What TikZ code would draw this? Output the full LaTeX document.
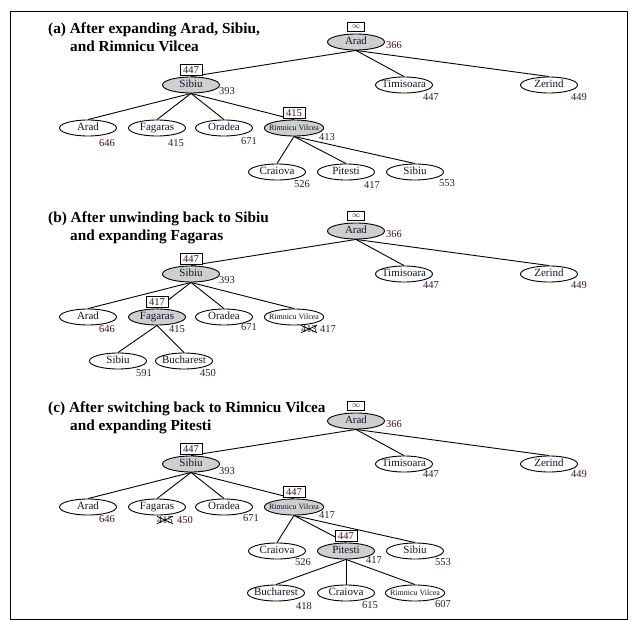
\documentclass[tikz,border=0pt]{standalone}
\usepackage{fontspec}
\setmainfont{Liberation Serif}
\usepackage{tikz}
\usetikzlibrary{positioning,shapes.geometric}
\definecolor{numcol}{RGB}{60,20,50}
\definecolor{txtcol}{RGB}{20,20,50}
\tikzset{
  city/.style   ={draw,ellipse,line width=0.9pt,fill=white,inner xsep=-4pt,inner ysep=0pt,
                  text height=7pt,text depth=2pt,minimum width=57pt,minimum height=16pt,
                  text=txtcol,font=\fontsize{11}{12}\selectfont},
  open/.style   ={city,fill=gray!38},
  rv/.style     ={font=\fontsize{8}{9}\selectfont,text height=5.5pt,text depth=1.5pt},
  fval/.style   ={inner sep=0pt,text=numcol,font=\fontsize{10.5}{12}\selectfont},
  limit/.style  ={draw,line width=0.8pt,fill=white,inner sep=0pt,minimum width=22pt,minimum height=11pt,
                  text=numcol,font=\fontsize{10.5}{12}\selectfont},
  nolimit/.style={limit,minimum width=17pt,minimum height=9pt,font=\fontsize{8.5}{9}\selectfont},
  link/.style   ={line width=0.9pt},
  strike/.style ={line width=0.8pt},
  title/.style  ={anchor=base west,inner sep=0pt,font=\bfseries\fontsize{15.3}{18}\selectfont}
}
\begin{document}
\begin{tikzpicture}[x=1pt,y=-1pt]
  \useasboundingbox (0,0) rectangle (640,621);
  \draw[line width=0.8pt] (10,11) rectangle (627,619);

  % (a) after expanding Arad, Sibiu and Rimnicu Vilcea
  \node[title] (a-t1) at (48,33) {(a) After expanding Arad, Sibiu,};
  \node[title] (a-t2) at (70,51) {and Rimnicu Vilcea};
  \node[open] (a-root) at (356,42) {Arad};
  \node[open] (a-sib)  at (191,85) {Sibiu};
  \node[city] (a-tim)  at (404,85) {Timisoara};
  \node[city] (a-zer)  at (549,85) {Zerind};
  \node[city] (a-ara)  at (88,128) {Arad};
  \node[city] (a-fag)  at (157,128) {Fagaras};
  \node[city] (a-ora)  at (224,128) {Oradea};
  \node[open,rv] (a-rv) at (294,128) {Rimnicu Vilcea};
  \node[city] (a-cra)  at (277,172) {Craiova};
  \node[city] (a-pit)  at (346,172) {Pitesti};
  \node[city] (a-sib2) at (415,172) {Sibiu};
  \draw[link] (a-root.south) -- (a-sib.north);
  \draw[link] (a-root.south) -- (a-tim.north);
  \draw[link] (a-root.south) -- (a-zer.north);
  \draw[link] (a-sib.south) -- (a-ara.north);
  \draw[link] (a-sib.south) -- (a-fag.north);
  \draw[link] (a-sib.south) -- (a-ora.north);
  \draw[link] (a-sib.south) -- (a-rv.north);
  \draw[link] (a-rv.south) -- (a-cra.north);
  \draw[link] (a-rv.south) -- (a-pit.north);
  \draw[link] (a-rv.south) -- (a-sib2.north);
  \node[nolimit,above=2pt of a-root] (a-root-l) {$\infty$};
  \node[limit,above=0.5pt of a-sib] (a-sib-l) {447};
  \node[limit,above=0.5pt of a-rv] (a-rv-l) {415};
  \node[fval] (a-root-f) at (394,45) {366};
  \node[fval] (a-sib-f)  at (227,91) {393};
  \node[fval] (a-tim-f)  at (431,97) {447};
  \node[fval] (a-zer-f)  at (579,97) {449};
  \node[fval] (a-ara-f)  at (107,143) {646};
  \node[fval] (a-fag-f)  at (176,143) {415};
  \node[fval] (a-ora-f)  at (249,141) {671};
  \node[fval] (a-rv-f)   at (327,137) {413};
  \node[fval] (a-cra-f)  at (302,184) {526};
  \node[fval] (a-pit-f)  at (372,185) {417};
  \node[fval] (a-sib2-f) at (447,183) {553};

  % (b) after unwinding back to Sibiu
  \begin{scope}[shift={(0,189)}]
  \node[title] (b-t1) at (48,33) {(b) After unwinding back to Sibiu};
  \node[title] (b-t2) at (70,51) {and expanding Fagaras};
  \node[open] (b-root) at (356,42) {Arad};
  \node[open] (b-sib)  at (191,85) {Sibiu};
  \node[city] (b-tim)  at (404,85) {Timisoara};
  \node[city] (b-zer)  at (549,85) {Zerind};
  \node[city] (b-ara)  at (88,128) {Arad};
  \node[open] (b-fag)  at (157,128) {Fagaras};
  \node[city] (b-ora)  at (224,128) {Oradea};
  \node[city,rv] (b-rv) at (294,128) {Rimnicu Vilcea};
  \node[city] (b-sib2) at (118,172) {Sibiu};
  \node[city] (b-buc)  at (184,172) {Bucharest};
  \draw[link] (b-root.south) -- (b-sib.north);
  \draw[link] (b-root.south) -- (b-tim.north);
  \draw[link] (b-root.south) -- (b-zer.north);
  \draw[link] (b-sib.south) -- (b-ara.north);
  \draw[link] (b-sib.south) -- (b-fag.north);
  \draw[link] (b-sib.south) -- (b-ora.north);
  \draw[link] (b-sib.south) -- (b-rv.north);
  \draw[link] (b-fag.south) -- (b-sib2.north);
  \draw[link] (b-fag.south) -- (b-buc.north);
  \node[nolimit,above=2pt of b-root] (b-root-l) {$\infty$};
  \node[limit,above=0.5pt of b-sib] (b-sib-l) {447};
  \node[limit,above=0.5pt of b-fag] (b-fag-l) {417};
  \node[fval] (b-root-f) at (394,45) {366};
  \node[fval] (b-sib-f)  at (227,91) {393};
  \node[fval] (b-tim-f)  at (431,96) {447};
  \node[fval] (b-zer-f)  at (579,96) {449};
  \node[fval] (b-ara-f)  at (107,140) {646};
  \node[fval] (b-fag-f)  at (177,140) {415};
  \node[fval] (b-ora-f)  at (249,138) {671};
  \node[fval] (b-rv-old) at (309,140) {413};
  \node[fval] (b-rv-f)   at (328,140) {417};
  \draw[strike] (b-rv-old.south west) -- (b-rv-old.north east)
                (b-rv-old.north west) -- (b-rv-old.south east);
  \node[fval] (b-sib2-f) at (144,184) {591};
  \node[fval] (b-buc-f)  at (208,184) {450};
  \end{scope}

  % (c) after switching back to Rimnicu Vilcea
  \begin{scope}[shift={(0,379)}]
  \node[title] (c-t1) at (48,33) {(c) After switching back to Rimnicu Vilcea};
  \node[title] (c-t2) at (70,51) {and expanding Pitesti};
  \node[open] (c-root) at (356,42) {Arad};
  \node[open] (c-sib)  at (191,85) {Sibiu};
  \node[city] (c-tim)  at (404,85) {Timisoara};
  \node[city] (c-zer)  at (549,85) {Zerind};
  \node[city] (c-ara)  at (88,128) {Arad};
  \node[city] (c-fag)  at (157,128) {Fagaras};
  \node[city] (c-ora)  at (224,128) {Oradea};
  \node[open,rv] (c-rv) at (294,128) {Rimnicu Vilcea};
  \node[city] (c-cra)  at (277,172) {Craiova};
  \node[open] (c-pit)  at (346,172) {Pitesti};
  \node[city] (c-sib2) at (415,172) {Sibiu};
  \node[city] (c-buc)  at (276,214) {Bucharest};
  \node[city] (c-cra2) at (346,214) {Craiova};
  \node[city,rv] (c-rv2) at (415,214) {Rimnicu Vilcea};
  \draw[link] (c-root.south) -- (c-sib.north);
  \draw[link] (c-root.south) -- (c-tim.north);
  \draw[link] (c-root.south) -- (c-zer.north);
  \draw[link] (c-sib.south) -- (c-ara.north);
  \draw[link] (c-sib.south) -- (c-fag.north);
  \draw[link] (c-sib.south) -- (c-ora.north);
  \draw[link] (c-sib.south) -- (c-rv.north);
  \draw[link] (c-rv.south) -- (c-cra.north);
  \draw[link] (c-rv.south) -- (c-pit.north);
  \draw[link] (c-rv.south) -- (c-sib2.north);
  \draw[link] (c-pit.south) -- (c-buc.north);
  \draw[link] (c-pit.south) -- (c-cra2.north);
  \draw[link] (c-pit.south) -- (c-rv2.north);
  \node[nolimit,above=2pt of c-root] (c-root-l) {$\infty$};
  \node[limit,above=0.5pt of c-sib] (c-sib-l) {447};
  \node[limit,above=0.5pt of c-rv] (c-rv-l) {447};
  \node[limit,above=0.5pt of c-pit] (c-pit-l) {447};
  \node[fval] (c-root-f) at (394,45) {366};
  \node[fval] (c-sib-f)  at (227,92) {393};
  \node[fval] (c-tim-f)  at (431,95) {447};
  \node[fval] (c-zer-f)  at (579,95) {449};
  \node[fval] (c-ara-f)  at (107,140) {646};
  \node[fval] (c-fag-old) at (165,141) {415};
  \node[fval] (c-fag-f)  at (185,141) {450};
  \draw[strike] (c-fag-old.south west) -- (c-fag-old.north east)
                (c-fag-old.north west) -- (c-fag-old.south east);
  \node[fval] (c-ora-f)  at (251,139) {671};
  \node[fval] (c-rv-f)   at (327,136) {417};
  \node[fval] (c-cra-f)  at (303,183) {526};
  \node[fval] (c-pit-f)  at (374,181) {417};
  \node[fval] (c-sib2-f) at (443,183) {553};
  \node[fval] (c-buc-f)  at (304,227) {418};
  \node[fval] (c-cra2-f) at (370,226) {615};
  \node[fval] (c-rv2-f)  at (443,225) {607};
  \end{scope}
\end{tikzpicture}
\end{document}
